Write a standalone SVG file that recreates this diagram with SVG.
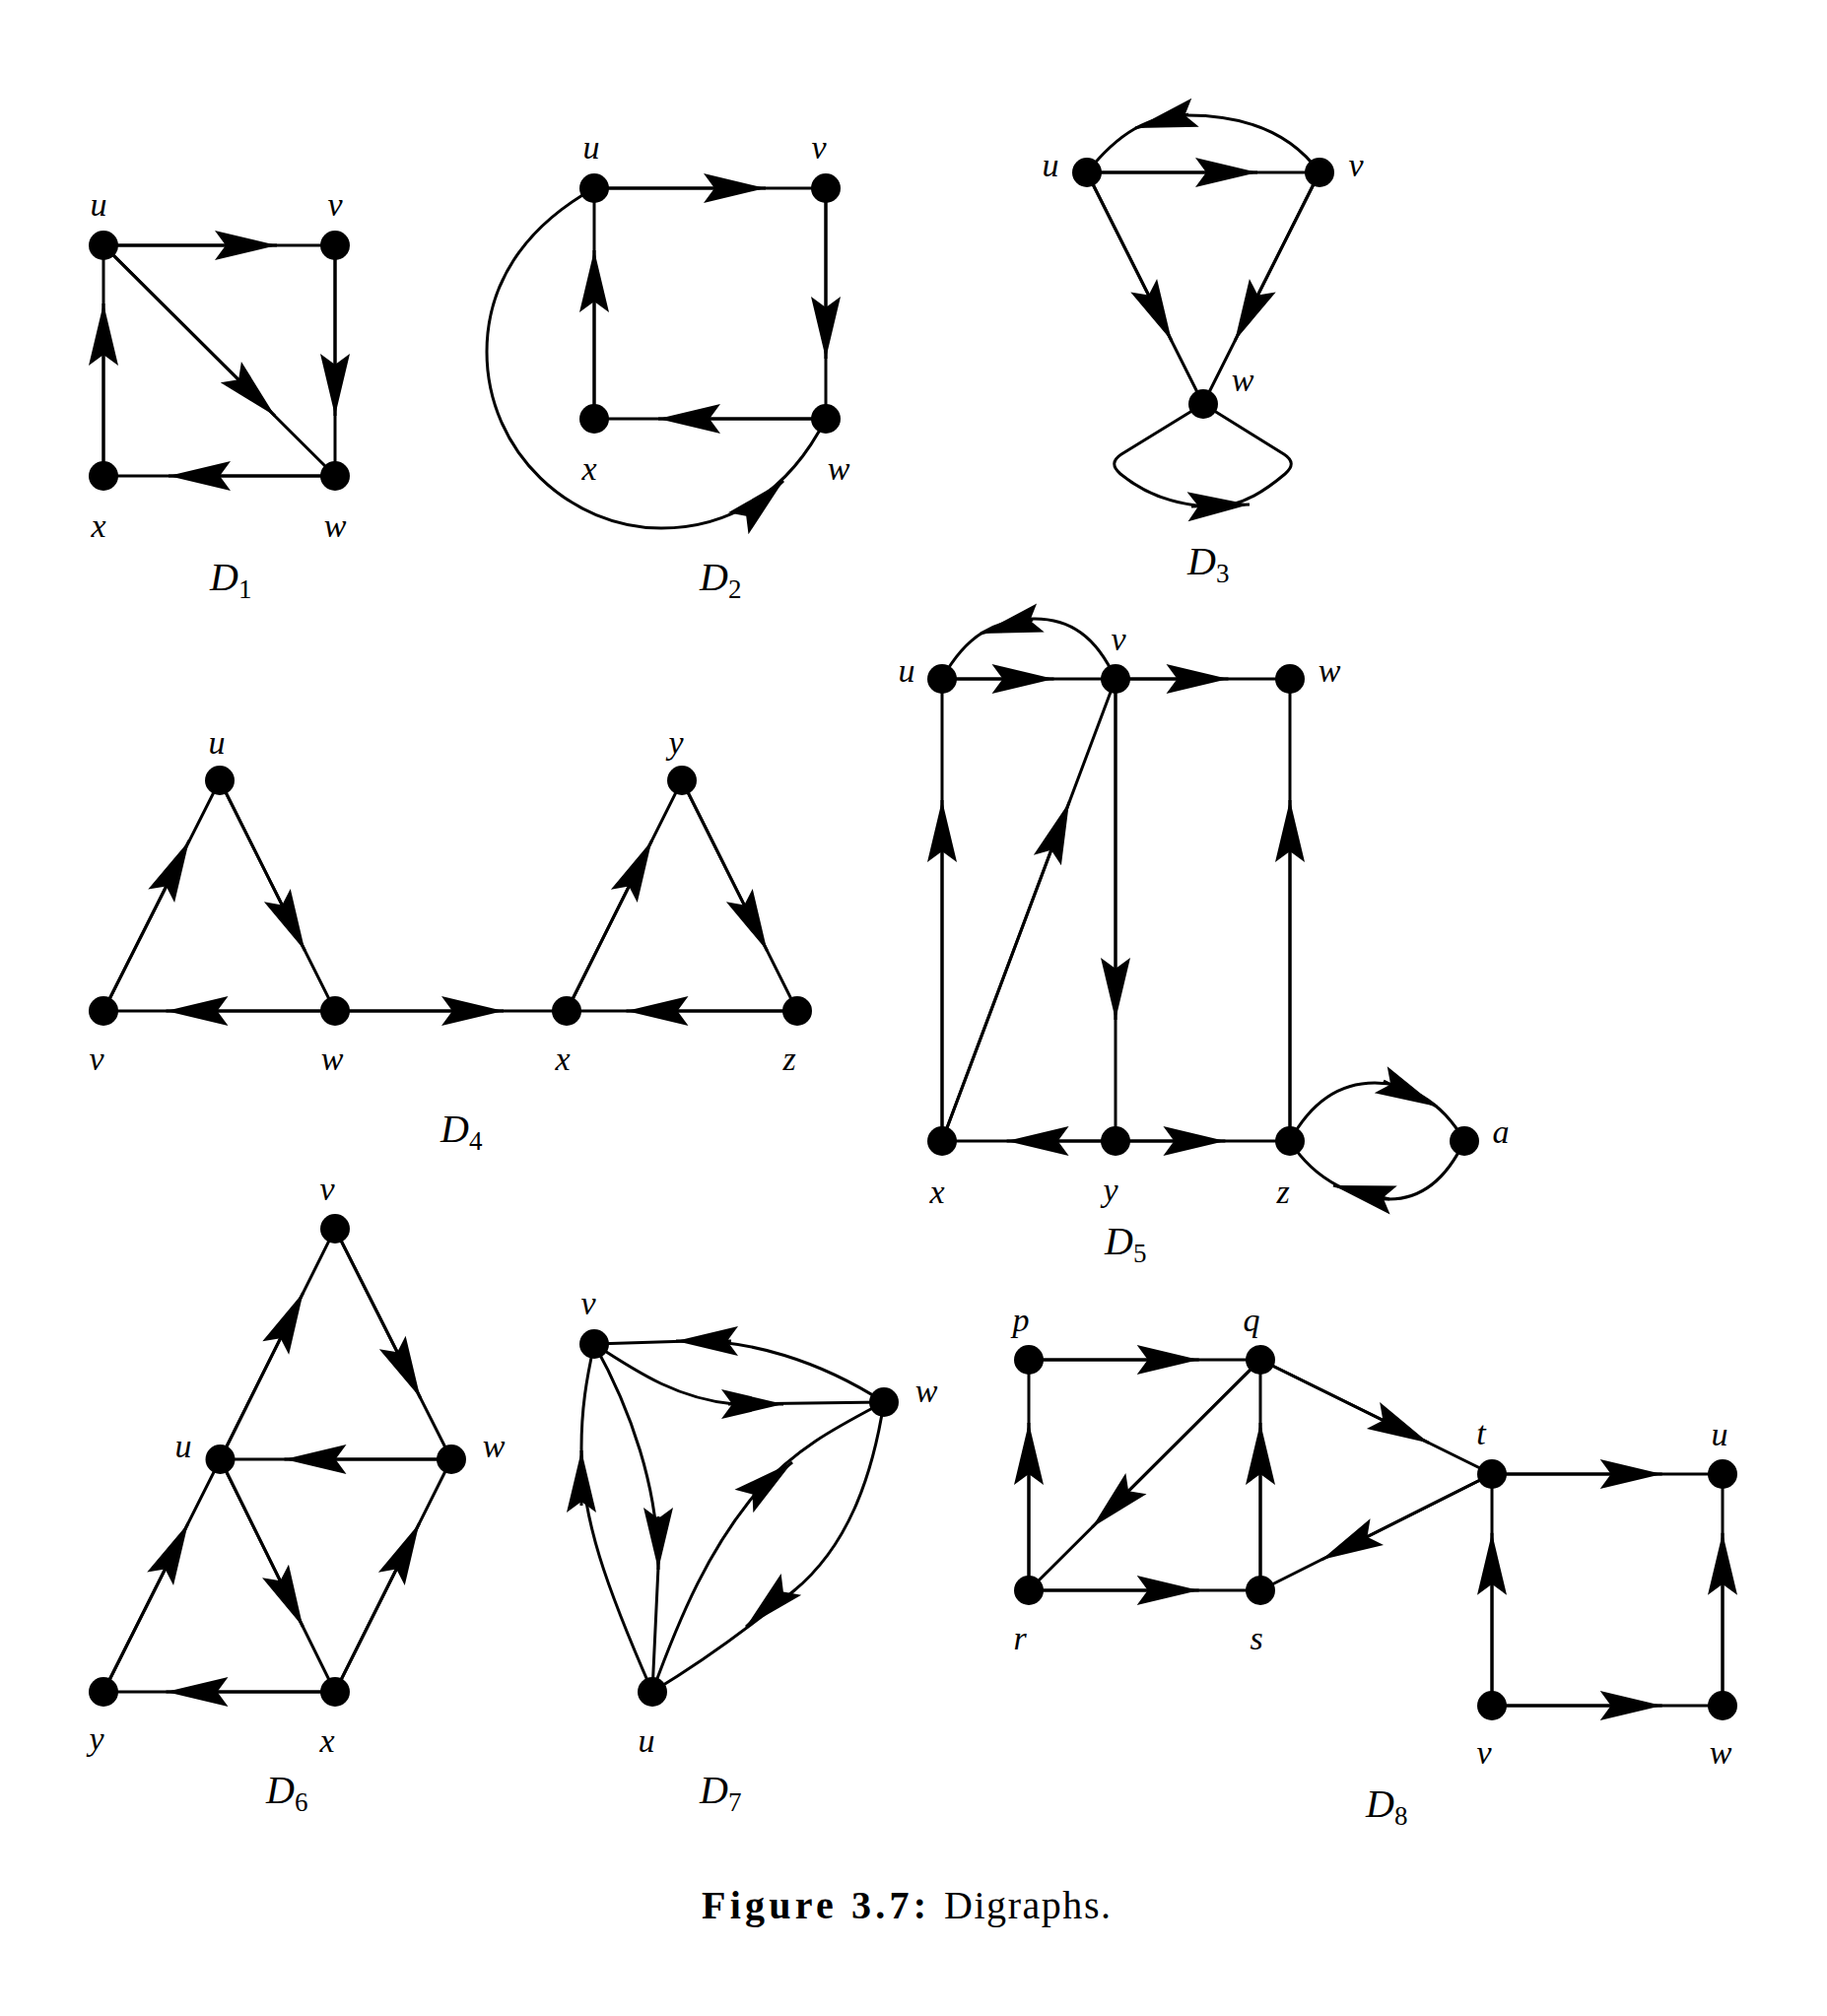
<svg xmlns="http://www.w3.org/2000/svg" width="1854" height="2046" viewBox="0 0 1854 2046">
<style>
.e{fill:none;stroke:#000;stroke-width:3}
.a{fill:none;stroke:#000;stroke-width:3;marker-end:url(#ah)}
.n{fill:#000}
.l{font-family:"Liberation Serif",serif;font-style:italic;font-size:34px;text-anchor:middle;fill:#000}
.d{font-family:"Liberation Serif",serif;font-style:italic;font-size:40px;fill:#000}
.s{font-style:normal;font-size:27px}
.c{font-family:"Liberation Serif",serif;font-size:40px;fill:#000}
</style>
<defs>
<marker id="ah" markerUnits="userSpaceOnUse" orient="auto" viewBox="-70 -20 80 40" markerWidth="80" markerHeight="40" refX="0" refY="0" overflow="visible">
<path d="M0,0 L-63,-15 L-52,0 L-63,15 Z" fill="#000"/>
</marker>
</defs>
<rect width="1854" height="2046" fill="#fff"/>
<g id="connectors">
<!-- D1 -->
<path class="e" d="M105,249 L340,249 M340,249 L340,483 M105,483 L105,249 M340,483 L105,483 M105,249 L340,483"/>
<path class="a" d="M105,249 L281,249"/>
<path class="a" d="M340,249 L340,422"/>
<path class="a" d="M105,483 L105,308"/>
<path class="a" d="M340,483 L171,483"/>
<path class="a" d="M105,249 L279,422"/>
<!-- D2 -->
<path class="e" d="M603,191 L838,191 M838,191 L838,425 M838,425 L603,425 M603,425 L603,191"/>
<path class="e" d="M603,191 C530,232 494,290 494,357 C494,460 580,536 671,536 C740,536 800,500 838,425"/>
<path class="a" d="M603,191 L777,191"/>
<path class="a" d="M838,191 L838,364"/>
<path class="a" d="M838,425 L668,425"/>
<path class="a" d="M603,425 L603,254"/>
<path class="a" d="M787.7,494.9 L795,488"/>
<!-- D3 -->
<path class="e" d="M1103,175 L1339,175 M1103,175 L1221,410 M1339,175 L1221,410"/>
<path class="e" d="M1339,175 C1310,135 1265,117 1205,117 C1165,117 1135,135 1103,175"/>
<path class="e" d="M1221,410 L1138,461 Q1124,470 1137,481 C1165,504 1200,514 1235,514 C1262,513 1285,497 1304,481 Q1317,470 1303,461 L1221,410"/>
<path class="a" d="M1103,175 L1276,175"/>
<path class="a" d="M1103,175 L1189,346"/>
<path class="a" d="M1339,175 L1253,346"/>
<path class="a" d="M1206,116 L1152,130"/>
<path class="a" d="M1209,514 L1268,512"/>
<!-- D4 -->
<path class="e" d="M105,1026 L223,792 L340,1026 Z M340,1026 L575,1026 M575,1026 L692,792 L809,1026 Z"/>
<path class="a" d="M105,1026 L192,853"/>
<path class="a" d="M223,792 L309.5,965"/>
<path class="a" d="M340,1026 L168.5,1026"/>
<path class="a" d="M340,1026 L511,1026"/>
<path class="a" d="M575,1026 L661.5,853"/>
<path class="a" d="M692,792 L778.5,965"/>
<path class="a" d="M809,1026 L635.5,1026"/>
<!-- D5 -->
<path class="e" d="M956,689 L1309,689 M956,689 L956,1158 L1309,1158 L1309,689 M1132,689 L1132,1158 M956,1158 L1132,689"/>
<path class="e" d="M1132,689 C1112,645 1085,628 1050,628 C1010,628 980,645 956,689"/>
<path class="e" d="M1309,1158 C1335,1110 1368,1099 1395,1099 C1425,1099 1462,1115 1486,1158"/>
<path class="e" d="M1486,1158 C1466,1200 1440,1217 1410,1217 C1380,1218 1335,1200 1309,1158"/>
<path class="a" d="M956,689 L1069.5,689"/>
<path class="a" d="M1132,689 L1246.5,689"/>
<path class="a" d="M956,1158 L956,812"/>
<path class="a" d="M1309,1158 L1309,812"/>
<path class="a" d="M1132,689 L1132,1035"/>
<path class="a" d="M1132,1158 L1021.6,1158"/>
<path class="a" d="M1132,1158 L1243.4,1158"/>
<path class="a" d="M956,1158 L1085,814"/>
<path class="a" d="M1048,629 L995,643"/>
<path class="a" d="M1404,1097 L1458,1123"/>
<path class="a" d="M1410,1217 L1353,1203"/>
<!-- D6 -->
<path class="e" d="M223.5,1481 L340,1247 L458,1481 Z M105,1717 L223.5,1481 L340,1717 Z M340,1717 L458,1481"/>
<path class="a" d="M223.5,1481 L307.8,1311.6"/>
<path class="a" d="M340,1247 L426.6,1418.7"/>
<path class="a" d="M458,1481 L288.5,1481"/>
<path class="a" d="M105,1717 L190.9,1546"/>
<path class="a" d="M223.5,1481 L307.4,1651"/>
<path class="a" d="M340,1717 L425.5,1546"/>
<path class="a" d="M340,1717 L168.5,1717"/>
<!-- D7 -->
<path class="e" d="M603,1364 L700,1361 C760,1360 830,1380 897,1423"/>
<path class="e" d="M603,1364 C650,1395 690,1420 745,1425 L897,1423"/>
<path class="e" d="M603,1364 C640,1430 668,1510 668,1590 L662,1717"/>
<path class="e" d="M662,1717 C615,1610 590,1540 590,1470 C590,1430 595,1400 603,1364"/>
<path class="e" d="M662,1717 C690,1640 720,1570 770,1512 C810,1468 850,1448 897,1423"/>
<path class="e" d="M897,1423 C885,1500 860,1570 805,1615 C760,1652 715,1685 662,1717"/>
<path class="a" d="M742,1361 L686,1361"/>
<path class="a" d="M739,1425 L795,1425"/>
<path class="a" d="M668,1539 L668,1593"/>
<path class="a" d="M590,1528 L590,1472"/>
<path class="a" d="M768,1513 L804,1484"/>
<path class="a" d="M790,1620 L757,1651"/>
<!-- D8 -->
<path class="e" d="M1044,1380 L1279,1380 M1044,1614 L1279,1614 M1044,1614 L1044,1380 M1279,1614 L1279,1380 M1279,1380 L1044,1614 M1279,1380 L1514,1496 L1279,1614 M1514,1496 L1748,1496 M1514,1731 L1514,1496 M1514,1731 L1748,1731 M1748,1731 L1748,1496"/>
<path class="a" d="M1044,1380 L1216.7,1380"/>
<path class="a" d="M1044,1614 L1216.7,1614"/>
<path class="a" d="M1044,1614 L1044,1444"/>
<path class="a" d="M1279,1614 L1279,1444"/>
<path class="a" d="M1279,1380 L1108.3,1550"/>
<path class="a" d="M1279,1380 L1450,1464.4"/>
<path class="a" d="M1514,1496 L1341,1583"/>
<path class="a" d="M1514,1496 L1686.7,1496"/>
<path class="a" d="M1514,1731 L1514,1555.8"/>
<path class="a" d="M1514,1731 L1686.7,1731"/>
<path class="a" d="M1748,1731 L1748,1555.8"/>
</g>
<!-- D1 nodes -->
<g id="d1-u"><circle class="n" cx="105" cy="249" r="15"/><text class="l" x="100" y="219">u</text></g>
<g id="d1-v"><circle class="n" cx="340" cy="249" r="15"/><text class="l" x="340" y="219">v</text></g>
<g id="d1-x"><circle class="n" cx="105" cy="483" r="15"/><text class="l" x="100" y="545">x</text></g>
<g id="d1-w"><circle class="n" cx="340" cy="483" r="15"/><text class="l" x="340" y="545">w</text></g>
<text class="d" x="213" y="599">D<tspan class="s" dy="8">1</tspan></text>
<!-- D2 nodes -->
<g id="d2-u"><circle class="n" cx="603" cy="191" r="15"/><text class="l" x="600" y="161">u</text></g>
<g id="d2-v"><circle class="n" cx="838" cy="191" r="15"/><text class="l" x="831" y="161">v</text></g>
<g id="d2-x"><circle class="n" cx="603" cy="425" r="15"/><text class="l" x="598" y="487">x</text></g>
<g id="d2-w"><circle class="n" cx="838" cy="425" r="15"/><text class="l" x="851" y="487">w</text></g>
<text class="d" x="710" y="599">D<tspan class="s" dy="8">2</tspan></text>
<!-- D3 nodes -->
<g id="d3-u"><circle class="n" cx="1103" cy="175" r="15"/><text class="l" x="1066" y="179">u</text></g>
<g id="d3-v"><circle class="n" cx="1339" cy="175" r="15"/><text class="l" x="1376" y="179">v</text></g>
<g id="d3-w"><circle class="n" cx="1221" cy="410" r="15"/><text class="l" x="1261" y="397">w</text></g>
<text class="d" x="1205" y="583">D<tspan class="s" dy="8">3</tspan></text>
<!-- D4 nodes -->
<g id="d4-u"><circle class="n" cx="223" cy="792" r="15"/><text class="l" x="220" y="765">u</text></g>
<g id="d4-y"><circle class="n" cx="692" cy="792" r="15"/><text class="l" x="686" y="765">y</text></g>
<g id="d4-v"><circle class="n" cx="105" cy="1026" r="15"/><text class="l" x="98" y="1086">v</text></g>
<g id="d4-w"><circle class="n" cx="340" cy="1026" r="15"/><text class="l" x="337" y="1086">w</text></g>
<g id="d4-x"><circle class="n" cx="575" cy="1026" r="15"/><text class="l" x="571" y="1086">x</text></g>
<g id="d4-z"><circle class="n" cx="809" cy="1026" r="15"/><text class="l" x="801" y="1086">z</text></g>
<text class="d" x="447" y="1159">D<tspan class="s" dy="8">4</tspan></text>
<!-- D5 nodes -->
<g id="d5-u"><circle class="n" cx="956" cy="689" r="15"/><text class="l" x="920" y="692">u</text></g>
<g id="d5-v"><circle class="n" cx="1132" cy="689" r="15"/><text class="l" x="1135" y="660">v</text></g>
<g id="d5-w"><circle class="n" cx="1309" cy="689" r="15"/><text class="l" x="1349" y="692">w</text></g>
<g id="d5-x"><circle class="n" cx="956" cy="1158" r="15"/><text class="l" x="951" y="1221">x</text></g>
<g id="d5-y"><circle class="n" cx="1132" cy="1158" r="15"/><text class="l" x="1127" y="1219">y</text></g>
<g id="d5-z"><circle class="n" cx="1309" cy="1158" r="15"/><text class="l" x="1302" y="1221">z</text></g>
<g id="d5-a"><circle class="n" cx="1486" cy="1158" r="15"/><text class="l" x="1523" y="1160">a</text></g>
<text class="d" x="1121" y="1273">D<tspan class="s" dy="8">5</tspan></text>
<!-- D6 nodes -->
<g id="d6-v"><circle class="n" cx="340" cy="1247" r="15"/><text class="l" x="332" y="1218">v</text></g>
<g id="d6-u"><circle class="n" cx="223.5" cy="1481" r="15"/><text class="l" x="186" y="1479">u</text></g>
<g id="d6-w"><circle class="n" cx="458" cy="1481" r="15"/><text class="l" x="501" y="1479">w</text></g>
<g id="d6-y"><circle class="n" cx="105" cy="1717" r="15"/><text class="l" x="98" y="1776">y</text></g>
<g id="d6-x"><circle class="n" cx="340" cy="1717" r="15"/><text class="l" x="332" y="1778">x</text></g>
<text class="d" x="270" y="1830">D<tspan class="s" dy="8">6</tspan></text>
<!-- D7 nodes -->
<g id="d7-v"><circle class="n" cx="603" cy="1364" r="15"/><text class="l" x="597" y="1334">v</text></g>
<g id="d7-w"><circle class="n" cx="897" cy="1423" r="15"/><text class="l" x="940" y="1423">w</text></g>
<g id="d7-u"><circle class="n" cx="662" cy="1717" r="15"/><text class="l" x="656" y="1778">u</text></g>
<text class="d" x="710" y="1830">D<tspan class="s" dy="8">7</tspan></text>
<!-- D8 nodes -->
<g id="d8-p"><circle class="n" cx="1044" cy="1380" r="15"/><text class="l" x="1036" y="1351">p</text></g>
<g id="d8-q"><circle class="n" cx="1279" cy="1380" r="15"/><text class="l" x="1270" y="1351">q</text></g>
<g id="d8-r"><circle class="n" cx="1044" cy="1614" r="15"/><text class="l" x="1035" y="1674">r</text></g>
<g id="d8-s"><circle class="n" cx="1279" cy="1614" r="15"/><text class="l" x="1275" y="1674">s</text></g>
<g id="d8-t"><circle class="n" cx="1514" cy="1496" r="15"/><text class="l" x="1503" y="1466">t</text></g>
<g id="d8-u"><circle class="n" cx="1748" cy="1496" r="15"/><text class="l" x="1745" y="1467">u</text></g>
<g id="d8-v"><circle class="n" cx="1514" cy="1731" r="15"/><text class="l" x="1506" y="1790">v</text></g>
<g id="d8-w"><circle class="n" cx="1748" cy="1731" r="15"/><text class="l" x="1746" y="1790">w</text></g>
<text class="d" x="1386" y="1844">D<tspan class="s" dy="8">8</tspan></text>
<!-- caption -->
<text class="c" x="712" y="1947" font-weight="bold" textLength="228" lengthAdjust="spacing">Figure 3.7:</text>
<text class="c" x="958" y="1947" textLength="169" lengthAdjust="spacing">Digraphs.</text>
</svg>
